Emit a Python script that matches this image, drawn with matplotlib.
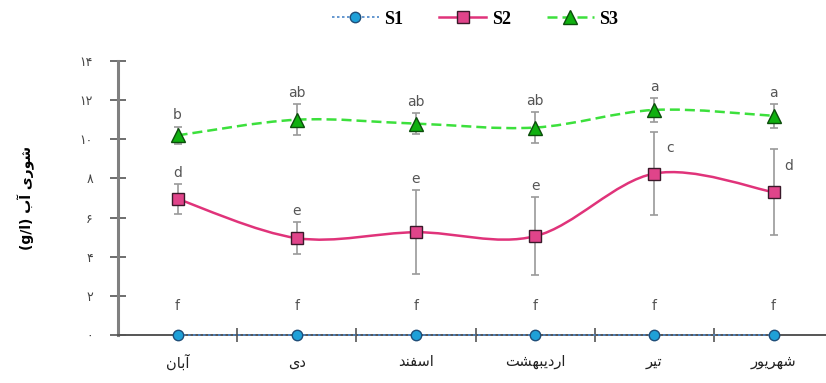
import numpy as np
import matplotlib.pyplot as plt
from matplotlib.path import Path
from matplotlib.patches import PathPatch
from matplotlib.lines import Line2D

# month names already shaped (presentation forms, visual order)
MONTHS = [
    "\uFEE5\uFE8E\uFE91\uFE81",                          # آبان
    "\uFBFC\uFEA9",                                      # دی
    "\uFEAA\uFEE8\uFED4\uFEB3\uFE8D",                    # اسفند
    "\uFE96\uFEB8\uFEEC\uFE92\uFBFE\uFEA9\uFEAD\uFE8D",  # اردیبهشت
    "\uFEAE\uFBFF\uFE97",                                # تیر
    "\uFEAD\uFEEE\uFBFE\uFEAE\uFEEC\uFEB7",              # شهریور
]
YLABEL = "(g/l) \uFE8F\uFE81 \uFBFC\uFEAD\uFEEE\uFEB7"   # شوری آب (g/l)
YTICKS = [0, 2, 4, 6, 8, 10, 12, 14]
YTICK_LABELS = ["\u06F0", "\u06F2", "\u06F4", "\u06F6", "\u06F8",
                "\u06F1\u06F0", "\u06F1\u06F2", "\u06F1\u06F4"]

s1 = [0, 0, 0, 0, 0, 0]
s2 = [6.95, 4.95, 5.25, 5.05, 8.25, 7.3]
s3 = [10.2, 11.0, 10.8, 10.6, 11.5, 11.2]
s2_err = [0.75, 0.8, 2.15, 2.0, 2.1, 2.2]
s3_err = [0.45, 0.8, 0.55, 0.8, 0.6, 0.6]

s1_letters = ["f", "f", "f", "f", "f", "f"]
s2_letters = ["d", "e", "e", "e", "c", "d"]
s3_letters = ["b", "ab", "ab", "ab", "a", "a"]

FONT = ["DejaVu Sans"]


def smooth_path(x, y):
    # excel-like smoothed line: cubic bezier with catmull-rom control points
    x = np.asarray(x, float)
    y = np.asarray(y, float)
    verts = [(x[0], y[0])]
    codes = [Path.MOVETO]
    n = len(x)
    for i in range(n - 1):
        p0 = (x[max(i - 1, 0)], y[max(i - 1, 0)])
        p1 = (x[i], y[i])
        p2 = (x[i + 1], y[i + 1])
        p3 = (x[min(i + 2, n - 1)], y[min(i + 2, n - 1)])
        c1 = (p1[0] + (p2[0] - p0[0]) / 6, p1[1] + (p2[1] - p0[1]) / 6)
        c2 = (p2[0] - (p3[0] - p1[0]) / 6, p2[1] - (p3[1] - p1[1]) / 6)
        verts += [c1, c2, p2]
        codes += [Path.CURVE4] * 3
    return Path(verts, codes)


fig = plt.figure(figsize=(8.26, 3.83), dpi=100)
ax = fig.add_axes([118 / 826, 48 / 383, 1 - 118 / 826, 274 / 383])

x = np.arange(len(MONTHS))

S1_STYLE = dict(color="#4a86c8", ls=(0, (1.5, 1.5)), lw=1.2,
                marker="o", ms=7.5, mfc="#1ea0d8", mec="#1f4e79", mew=1.0)
S2_STYLE = dict(color="#e0337a", ls="-", lw=1.8,
                marker="s", ms=9, mfc="#e0448a", mec="#3a1a2a", mew=1.0)
S3_STYLE = dict(color="#3ce03c", ls=(0, (4, 2)), lw=1.8,
                marker="^", ms=10, mfc="#10b010", mec="#0b4d0b", mew=1.0)

# error bars
ax.errorbar(x, s2, yerr=s2_err, fmt="none", ecolor="#9a9a9a", elinewidth=1.2,
            capsize=3, capthick=1.2, zorder=2)
ax.errorbar(x, s3, yerr=s3_err, fmt="none", ecolor="#9a9a9a", elinewidth=1.2,
            capsize=3, capthick=1.2, zorder=2)

# smoothed lines
ax.add_patch(PathPatch(smooth_path(x, s2), fill=False, edgecolor=S2_STYLE["color"],
                       lw=S2_STYLE["lw"], zorder=3))
ax.add_patch(PathPatch(smooth_path(x, s3), fill=False, edgecolor=S3_STYLE["color"],
                       lw=S3_STYLE["lw"], linestyle=S3_STYLE["ls"], zorder=3))
ax.plot(x, s1, color=S1_STYLE["color"], ls=S1_STYLE["ls"], lw=S1_STYLE["lw"],
        zorder=3, clip_on=False)

# markers
for vals, st in [(s1, S1_STYLE), (s2, S2_STYLE), (s3, S3_STYLE)]:
    ax.plot(x, vals, ls="none", marker=st["marker"], ms=st["ms"], mfc=st["mfc"],
            mec=st["mec"], mew=st["mew"], zorder=5, clip_on=False)

# significance letters
txt = dict(fontsize=10, color="#555555", ha="center", va="bottom", family=FONT)
for i in range(len(x)):
    ax.annotate(s3_letters[i], (x[i], s3[i] + s3_err[i]), xytext=(0, 3),
                textcoords="offset points", **txt)
    ax.annotate(s1_letters[i], (x[i], s1[i]), xytext=(0, 16),
                textcoords="offset points", **txt)
    if i < 4:
        ax.annotate(s2_letters[i], (x[i], s2[i] + s2_err[i]), xytext=(0, 3),
                    textcoords="offset points", **txt)
    else:
        ax.annotate(s2_letters[i], (x[i], s2[i] + s2_err[i] * 0.45), xytext=(11, 0),
                    textcoords="offset points", **txt)

ax.set_xlim(-0.5, 5.44)
ax.set_ylim(0, 14)

ax.set_yticks(YTICKS)
ax.set_yticklabels(YTICK_LABELS, family=FONT, fontsize=9, color="#444444")
ax.set_xticks(x)
ax.set_xticklabels(MONTHS, family=FONT, fontsize=10.5, color="#222222")
ax.set_xticks(x[:-1] + 0.5, minor=True)
ax.tick_params(axis="x", which="major", length=0, pad=14)
ax.tick_params(axis="x", which="minor", direction="inout", length=10,
               width=1.2, color="#555555")
ax.tick_params(axis="y", direction="inout", length=12, width=1.2,
               color="#555555", pad=12)

for side in ["top", "right"]:
    ax.spines[side].set_visible(False)
ax.spines["left"].set_color("#808080")
ax.spines["left"].set_linewidth(2.2)
ax.spines["bottom"].set_color("#555555")
ax.spines["bottom"].set_linewidth(1.4)

ax.set_ylabel(YLABEL, family=FONT, fontsize=10, fontweight="bold", labelpad=32)

handles = [Line2D([], [], **S1_STYLE), Line2D([], [], **S2_STYLE),
           Line2D([], [], **S3_STYLE)]
fig.legend(handles, ["S1", "S2", "S3"], loc="upper center", ncol=3,
           bbox_to_anchor=(0.575, 1.015), frameon=False, handlelength=2.6,
           handletextpad=0.3, columnspacing=2.0,
           prop={"family": "Liberation Serif", "weight": "bold", "size": 13})

plt.savefig("out.png", dpi=100)
